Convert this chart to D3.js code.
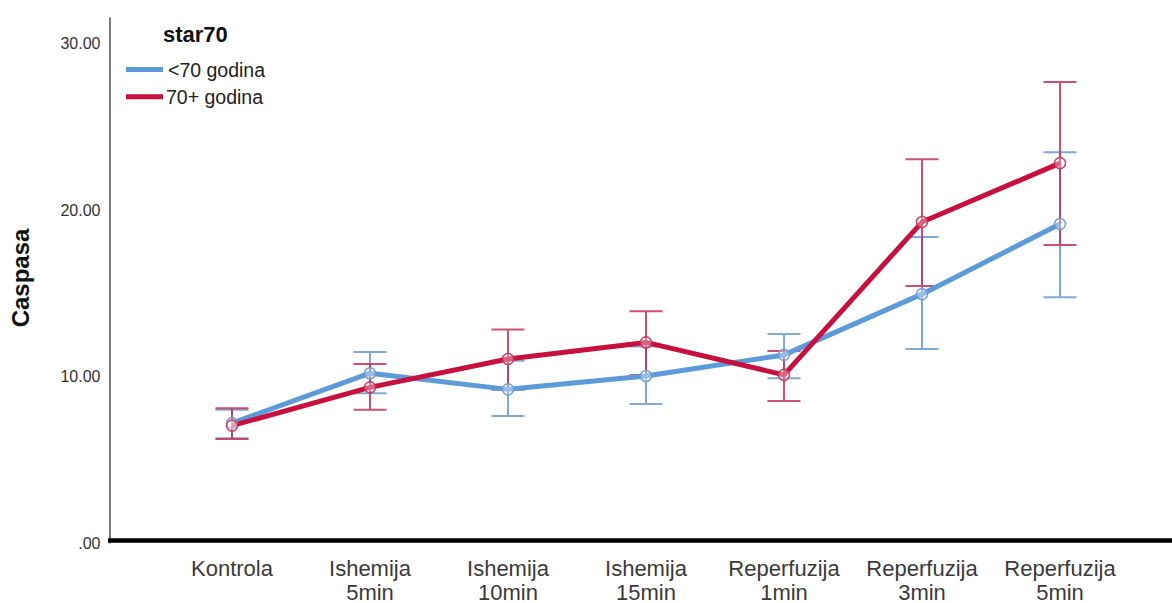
<!DOCTYPE html>
<html>
<head>
<meta charset="utf-8">
<script src="https://cdn.jsdelivr.net/npm/d3@7/dist/d3.min.js"></script>
<style>
  html, body { margin: 0; padding: 0; background: #fff; }
  svg { display: block; font-family: "Liberation Sans", Arial, sans-serif; }
</style>
</head>
<body>
<svg id="chart" width="1172" height="603"></svg>
<script>
// Time points (two-line labels)
const categories = ["Kontrola", "Ishemija 5min", "Ishemija 10min", "Ishemija 15min",
                    "Reperfuzija 1min", "Reperfuzija 3min", "Reperfuzija 5min"];
const categoryLines = [["Kontrola"], ["Ishemija", "5min"], ["Ishemija", "10min"], ["Ishemija", "15min"],
                       ["Reperfuzija", "1min"], ["Reperfuzija", "3min"], ["Reperfuzija", "5min"]];

// Group names
const seriesNames = ["<70 godina", "70+ godina"];

// Mean caspase values with 95% CI limits, group <70
const under70Mean = [7.2, 10.2, 9.23, 10.03, 11.3, 14.95, 19.16];
const under70Low  = [6.3, 9.0, 7.63, 8.35, 9.9, 11.65, 14.77];
const under70High = [8.0, 11.47, 10.95, 11.8, 12.55, 18.38, 23.48];

// Mean caspase values with 95% CI limits, group 70+
const over70Mean = [7.05, 9.35, 11.05, 12.05, 10.1, 19.28, 22.82];
const over70Low  = [6.25, 8.0, 9.2, 10.1, 8.53, 15.44, 17.9];
const over70High = [8.1, 10.75, 12.83, 13.93, 11.53, 23.06, 27.69];

// Y axis ticks
const yTicks = [0, 10, 20, 30];
const yTickLabels = [".00", "10.00", "20.00", "30.00"];

const legendTitle = "star70";
const yTitle = "Caspasa";

const lineColors = ["#5b9bda", "#c8103e"];
const barColors = ["#6a9bd4", "#c5325a"];

const svg = d3.select("#chart");

const x = d3.scalePoint().domain(categories).range([232, 1060]);
const y = d3.scaleLinear().domain([0, 31.6]).range([543, 17]);

const series = [
  { name: seriesNames[0], mean: under70Mean, low: under70Low, high: under70High },
  { name: seriesNames[1], mean: over70Mean, low: over70Low, high: over70High }
];

// Y axis: plain grey line, labels only
const yAxis = d3.axisLeft(y)
  .tickValues(yTicks)
  .tickFormat((d, i) => yTickLabels[i])
  .tickSize(0)
  .tickPadding(9);
const gy = svg.append("g").attr("transform", "translate(109.5,0)").call(yAxis);
gy.select(".domain").attr("stroke", "#6e6e6e").attr("stroke-width", 1.8);
gy.selectAll("text").attr("font-size", 16).attr("fill", "#333")
  .attr("font-family", "'Liberation Sans', Arial, sans-serif");

// X axis: heavy baseline, category labels drawn below
const xAxis = d3.axisBottom(x).tickSize(0).tickFormat("");
const gx = svg.append("g").attr("transform", `translate(0,${y(0) - 2.5})`).call(xAxis);
gx.select(".domain").attr("d", "M108,0H1172").attr("stroke", "#000").attr("stroke-width", 4.5);

const xLabels = svg.append("g");
categories.forEach((c, i) => {
  const t = xLabels.append("text")
    .attr("x", x(c)).attr("y", 576)
    .attr("text-anchor", "middle")
    .attr("font-size", 22)
    .attr("fill", "#3a3a3a");
  categoryLines[i].forEach((ln, j) => {
    t.append("tspan").attr("x", x(c)).attr("dy", j === 0 ? 0 : 23.5).text(ln);
  });
});

// Error bars
const capHalf = 16.5;
series.forEach((s, si) => {
  const g = svg.append("g").attr("stroke", barColors[si]).attr("stroke-width", 2).attr("opacity", 0.85);
  categories.forEach((c, i) => {
    const cx = x(c);
    g.append("line").attr("x1", cx).attr("x2", cx).attr("y1", y(s.low[i])).attr("y2", y(s.high[i]));
    g.append("line").attr("x1", cx - capHalf).attr("x2", cx + capHalf).attr("y1", y(s.low[i])).attr("y2", y(s.low[i]));
    g.append("line").attr("x1", cx - capHalf).attr("x2", cx + capHalf).attr("y1", y(s.high[i])).attr("y2", y(s.high[i]));
  });
});

// Mean lines
const line = d3.line().x((d, i) => x(categories[i])).y(d => y(d));
series.forEach((s, si) => {
  svg.append("path")
    .datum(s.mean)
    .attr("d", line)
    .attr("fill", "none")
    .attr("stroke", lineColors[si])
    .attr("stroke-width", 5)
    .attr("stroke-linejoin", "round");
});

// Mean markers: hollow circles
series.forEach((s, si) => {
  svg.append("g").selectAll("circle")
    .data(s.mean)
    .join("circle")
    .attr("cx", (d, i) => x(categories[i]))
    .attr("cy", d => y(d))
    .attr("r", 5.5)
    .attr("fill", "#fff").attr("fill-opacity", 0.35)
    .attr("stroke", barColors[si]).attr("stroke-width", 1.6)
    .attr("stroke-opacity", 0.9);
});

// Legend
const lg = svg.append("g");
lg.append("text").attr("x", 163).attr("y", 42)
  .attr("font-size", 22).attr("font-weight", "bold").attr("fill", "#111")
  .text(legendTitle);
const legendY = [69.5, 96.7];
seriesNames.forEach((n, i) => {
  lg.append("line").attr("x1", 126).attr("x2", 163)
    .attr("y1", legendY[i]).attr("y2", legendY[i])
    .attr("stroke", lineColors[i]).attr("stroke-width", 5);
  lg.append("text").attr("x", i === 0 ? 168 : 166).attr("y", legendY[i] + 7)
    .attr("font-size", 19.5).attr("fill", "#222").text(n);
});

// Y axis title
svg.append("text")
  .attr("transform", "translate(29,278) rotate(-90)")
  .attr("text-anchor", "middle")
  .attr("font-size", 24).attr("font-weight", "bold").attr("fill", "#111")
  .text(yTitle);
</script>
</body>
</html>
